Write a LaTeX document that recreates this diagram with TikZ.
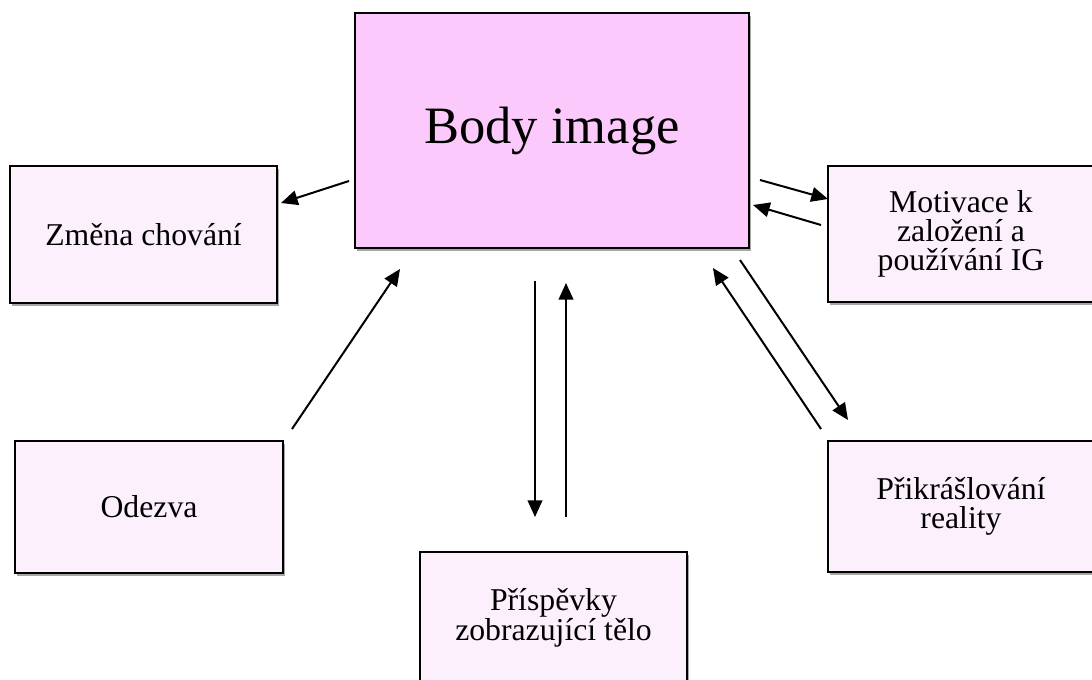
\documentclass[tikz,border=0pt]{standalone}
\usepackage{fontspec}
\setmainfont{Liberation Serif}
\usetikzlibrary{arrows.meta,shadows}
\definecolor{mainpink}{RGB}{252,201,252}
\definecolor{lightpink}{RGB}{253,240,253}
\tikzset{
  box/.style={draw=black, line width=1.3pt, rectangle, inner sep=0pt, outer sep=0pt,
    align=center, fill=lightpink,
    drop shadow={shadow xshift=1.5pt, shadow yshift=-2.2pt, opacity=0.35, fill=black},
    font=\fontsize{23.8}{21.6}\selectfont},
  mainbox/.style={box, fill=mainpink, font=\fontsize{39.4}{44}\selectfont},
  conn/.style={line width=1.5pt, -{Triangle[length=12.5pt, width=11pt]}}
}
\begin{document}
\begin{tikzpicture}[x=0.75pt, y=-0.75pt]
\useasboundingbox (0,0) rectangle (1092,680);
\clip (0,0) rectangle (1092,680);
\fill[white] (0,0) rectangle (1092,680);

\node[mainbox, minimum width=295.5pt, minimum height=176.25pt] (body) at (552,130.5) {Body image};
\node[box, minimum width=200.25pt, minimum height=102.75pt] (zmena) at (143.5,234.5) {Změna chování};
\node[box, minimum width=199.5pt, minimum height=102pt] (motiv) at (961,234) {Motivace k\\založení a\\používání IG};
\node[box, minimum width=199.5pt, minimum height=98.25pt] (prikr) at (961,506.5) {Přikrášlování\\reality};
\node[box, minimum width=201pt, minimum height=99pt] (odezva) at (149,507) {Odezva};
\node[box, minimum width=200.25pt, minimum height=99pt] (prisp) at (553.5,618) {Příspěvky\\zobrazující tělo};

\coordinate (a1s) at (349,181); \coordinate (a1e) at (281,203);
\coordinate (a2s) at (760,180); \coordinate (a2e) at (828,199);
\coordinate (a3s) at (821,225); \coordinate (a3e) at (753,205);
\coordinate (a4s) at (740,260); \coordinate (a4e) at (848,420);
\coordinate (a5s) at (821,429); \coordinate (a5e) at (713,268);
\coordinate (a6s) at (535,281); \coordinate (a6e) at (535,517);
\coordinate (a7s) at (566,517); \coordinate (a7e) at (566,283);
\coordinate (a8s) at (292,429); \coordinate (a8e) at (400,269);

\draw[conn] (a1s) -- (a1e);
\draw[conn] (a2s) -- (a2e);
\draw[conn] (a3s) -- (a3e);
\draw[conn] (a4s) -- (a4e);
\draw[conn] (a5s) -- (a5e);
\draw[conn] (a6s) -- (a6e);
\draw[conn] (a7s) -- (a7e);
\draw[conn] (a8s) -- (a8e);
\end{tikzpicture}
\end{document}
